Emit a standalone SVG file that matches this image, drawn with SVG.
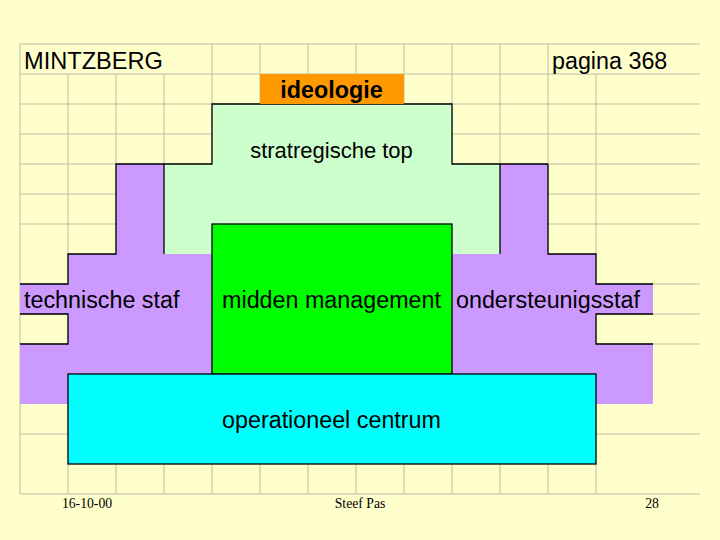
<svg xmlns="http://www.w3.org/2000/svg" width="720" height="540" viewBox="0 0 720 540">
<style>
.grid{stroke:#BFBCA6;stroke-width:1;fill:none}
.edge{stroke:#000;stroke-width:1.3;fill:none}
.box{stroke:#000;stroke-width:1.3}
.lbl{font-family:"Liberation Sans",Arial,sans-serif;font-size:23.3px;fill:#000}
.foot{font-family:"Liberation Serif","Times New Roman",serif;font-size:13.7px;fill:#000}
</style>
<rect x="0" y="0" width="720" height="540" fill="#FFFFCC"/>
<g id="grid" class="grid">
<path d="M20,44H700M20,74H700M20,104H700M20,134H700M20,164H700M20,194H700M20,224H700M20,284H700M20,314H700M20,344H700M20,434H700M20,494H700"/>
<path d="M20,44V494M68,74V494M116,74V494M164,74V494M212,44V494M260,44V494M308,44V494M356,44V494M404,44V494M452,44V494M500,44V494M548,44V494M596,74V494"/>
</g>
<g id="technische-staf">
<path d="M116,164H164V254H500V164H548V254H596V284H653V314H596V344H653V404H20V344H68V314H20V284H68V254H116Z" fill="#CC99FF"/>
<path class="edge" d="M20,284H68V254H116V164H164M20,314H68V344H20M548,164V254H596V284H653M653,314H596V344H653"/>
<text class="lbl" x="24" y="308">technische staf</text>
</g>
<g id="ondersteunigsstaf">
<text class="lbl" x="456" y="308">ondersteunigsstaf</text>
</g>
<g id="stratregische-top">
<path d="M164,254V164H212V104H452V164H500V254Z" fill="#CCFFCC"/>
<path class="edge" d="M164,254V164H212V104H452V164H500V254M500,164H548"/>
<text class="lbl" x="331.5" y="158.3" text-anchor="middle" style="font-size:22px">stratregische top</text>
</g>
<g id="ideologie">
<rect x="260" y="74" width="144" height="30" fill="#FF9900"/>
<text class="lbl" x="331.5" y="98.3" text-anchor="middle" font-weight="bold">ideologie</text>
</g>
<g id="midden-management">
<rect class="box" x="212" y="224" width="240" height="150" fill="#00FF00"/>
<text class="lbl" x="331.5" y="308" text-anchor="middle">midden management</text>
</g>
<g id="operationeel-centrum">
<rect class="box" x="68" y="374" width="528" height="90" fill="#00FFFF"/>
<text class="lbl" x="331.5" y="428.3" text-anchor="middle">operationeel centrum</text>
</g>
<g id="title">
<text class="lbl" x="24" y="69" style="font-size:23.6px">MINTZBERG</text>
<text class="lbl" x="552" y="69">pagina 368</text>
</g>
<g id="footer">
<text class="foot" x="87" y="508.3" text-anchor="middle">16-10-00</text>
<text class="foot" x="360" y="508.3" text-anchor="middle">Steef Pas</text>
<text class="foot" x="652" y="508.3" text-anchor="middle">28</text>
</g>
</svg>
